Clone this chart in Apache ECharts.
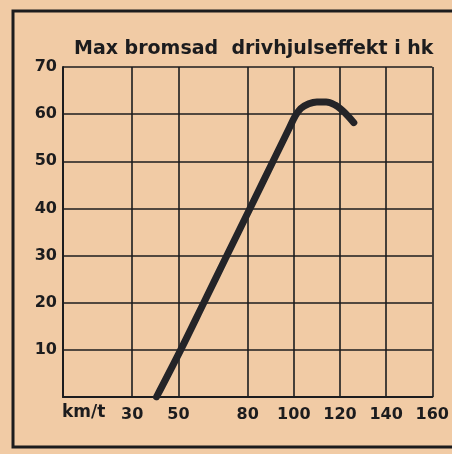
<!DOCTYPE html>
<html>
<head>
<meta charset="utf-8">
<script src="https://cdn.jsdelivr.net/npm/echarts@6/dist/echarts.min.js"></script>
<style>
html,body{margin:0;padding:0;background:#f1cba5;}
#c{width:452px;height:454px;}
</style>
</head>
<body>
<div id="c"></div>
<script>
const titleText = 'Max bromsad  drivhjulseffekt i hk';
const xUnit = 'km/t';
const xTicks = [30, 50, 80, 100, 120, 140, 160];
const yTicks = [10, 20, 30, 40, 50, 60, 70];
const speed = [40.5, 51, 61, 71, 81, 91, 98, 100.5, 103, 106.5, 110, 114, 118, 121, 123.5, 126];
const power = [0, 10, 20, 30, 40, 50, 57, 59.5, 61.2, 62.2, 62.6, 62.6, 61.9, 60.8, 59.6, 58.2];

const ink = '#1c1c1e';
const font = '"DejaVu Sans", sans-serif';
const chart = echarts.init(document.getElementById('c'), null, {renderer: 'canvas'});
chart.setOption({
  backgroundColor: '#f1cba5',
  animation: false,
  title: {
    text: titleText, left: 69, top: 35,
    textStyle: {color: ink, fontSize: 19, fontWeight: 'bold', fontFamily: font}
  },
  grid: {left: 63, right: 17, top: 67, bottom: 57, containLabel: false},
  xAxis: {
    type: 'value', min: 0, max: 160,
    axisLine: {show: true, lineStyle: {color: ink, width: 2}},
    axisTick: {show: false, customValues: xTicks},
    axisLabel: {customValues: xTicks, color: ink, fontSize: 16, fontWeight: 'bold', fontFamily: font, margin: 10},
    splitLine: {show: true, customValues: xTicks, lineStyle: {color: ink, width: 1.6}}
  },
  yAxis: {
    type: 'value', min: 0, max: 70, interval: 10,
    axisLine: {show: true, lineStyle: {color: ink, width: 2}},
    axisTick: {show: false},
    axisLabel: {color: ink, fontSize: 16, fontWeight: 'bold', fontFamily: font, margin: 6,
      formatter: v => (yTicks.includes(v) ? String(v) : '')},
    splitLine: {show: true, lineStyle: {color: ink, width: 1.6}}
  },
  graphic: [
    {type: 'rect', shape: {x: 13, y: 11, width: 520, height: 436},
     style: {fill: 'none', stroke: ink, lineWidth: 3}, silent: true},
    {type: 'text', left: 62, top: 404,
     style: {text: xUnit, fill: ink, font: 'bold 17px "DejaVu Sans", sans-serif'}}
  ],
  series: [{
    type: 'line',
    data: speed.map((s, i) => [s, power[i]]),
    showSymbol: false,
    smooth: 0.35,
    lineStyle: {color: '#242428', width: 7, cap: 'round'},
    z: 5
  }]
});
</script>
</body>
</html>
